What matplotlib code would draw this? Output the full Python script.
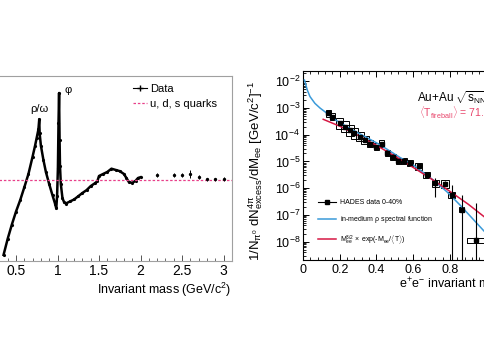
import matplotlib
matplotlib.use('Agg')
import matplotlib.pyplot as plt
from matplotlib.lines import Line2D
from matplotlib.patches import Rectangle
from matplotlib.ticker import MultipleLocator, LogLocator, NullFormatter, FormatStrFormatter

plt.rcParams['font.family'] = ['Liberation Sans', 'DejaVu Sans']
plt.rcParams['mathtext.fontset'] = 'custom'
plt.rcParams['mathtext.rm'] = 'Liberation Sans'
plt.rcParams['mathtext.it'] = 'Liberation Sans'
plt.rcParams['mathtext.bf'] = 'Liberation Sans'

# ---- left panel: R ratio vs invariant mass ----
mass_dense = [0.35, 0.40, 0.45, 0.50, 0.55, 0.60, 0.65, 0.70, 0.73, 0.75, 0.77, 0.78,
              0.785, 0.80, 0.83, 0.86, 0.90, 0.94, 0.97, 0.985, 0.995, 1.005, 1.012,
              1.019, 1.025, 1.03, 1.04, 1.06, 1.08, 1.10, 1.15, 1.20, 1.25, 1.30, 1.35,
              1.40, 1.45, 1.48, 1.50, 1.55, 1.60, 1.65, 1.70, 1.75, 1.80, 1.83, 1.86,
              1.90, 1.94, 1.97, 2.00]
ratio_dense = [0.15, 0.55, 0.90, 1.22, 1.50, 1.82, 2.15, 2.58, 2.85, 3.05, 3.25, 3.50,
               3.15, 2.85, 2.50, 2.20, 1.90, 1.62, 1.42, 1.30, 1.60, 2.30, 3.40,
               4.15, 3.00, 2.35, 1.90, 1.55, 1.45, 1.42, 1.47, 1.52, 1.60, 1.68, 1.75,
               1.85, 1.92, 1.97, 2.10, 2.15, 2.20, 2.28, 2.25, 2.22, 2.15, 2.05, 1.95,
               1.93, 1.98, 2.05, 2.07]
mass_sparse = [2.2, 2.4, 2.5, 2.6, 2.7, 2.8, 2.9, 3.0]
ratio_sparse = [2.12, 2.12, 2.12, 2.15, 2.08, 2.02, 2.02, 2.03]
ratio_sparse_err = [0.05, 0.05, 0.05, 0.09, 0.05, 0.04, 0.04, 0.05]
quark_ratio = 2.0

# ---- right panel: HADES excess yield ----
hades_m = [0.138, 0.16, 0.20, 0.229, 0.256, 0.28, 0.31, 0.338, 0.365, 0.398, 0.429,
           0.46, 0.49, 0.52, 0.55, 0.583, 0.629, 0.674, 0.72, 0.774, 0.81, 0.865, 0.943]
hades_y = [6.5e-4, 4.8e-4, 2.7e-4, 2.0e-4, 1.5e-4, 1.15e-4, 8.5e-5, 6.5e-5, 4.6e-5,
           3.6e-5, 4.6e-5, 2.0e-5, 1.45e-5, 1.07e-5, 1.07e-5, 8.7e-6, 6.5e-6, 3.2e-6,
           1.55e-6, 1.45e-6, 5.6e-7, 1.55e-7, 1.1e-8]
hades_lo = [6.4e-4, 4.7e-4, 2.6e-4, 1.9e-4, 1.4e-4, 1.1e-4, 8.2e-5, 6.3e-5, 4.4e-5,
            3.4e-5, 4.4e-5, 1.9e-5, 1.38e-5, 1.0e-5, 1.0e-5, 8.2e-6, 6.0e-6, 2.9e-6,
            4.7e-7, 1.2e-6, 1e-12, 1e-12, 1e-12]
hades_hi = [6.6e-4, 4.9e-4, 2.8e-4, 2.1e-4, 1.6e-4, 1.2e-4, 8.8e-5, 6.7e-5, 4.8e-5,
            3.8e-5, 4.8e-5, 2.1e-5, 1.52e-5, 1.14e-5, 1.14e-5, 9.2e-6, 7.0e-6, 3.6e-6,
            2.45e-6, 1.8e-6, 1.3e-6, 5.6e-7, 2.8e-7]
syst_dm = [0.012, 0.012, 0.02, 0.02, 0.02, 0.02, 0.02, 0.02, 0.014, 0.014, 0.014,
           0.014, 0.014, 0.014, 0.014, 0.014, 0.018, 0.018, 0.02, 0.022, 0.02, 0.014, 0.05]
syst_fac = [1.35, 1.35, 1.6, 1.6, 1.6, 1.6, 1.5, 1.4, 1.35, 1.35, 1.35,
            1.3, 1.3, 1.3, 1.3, 1.3, 1.3, 1.3, 1.35, 1.45, 1.3, 1.25, 1.25]

rho_m = [0.008, 0.015, 0.023, 0.038, 0.065, 0.093, 0.129, 0.166, 0.25, 0.347, 0.42,
         0.529, 0.60, 0.71, 0.783, 0.856, 0.99, 1.08]
rho_y = [1.12e-2, 7.6e-3, 4.8e-3, 2.7e-3, 1.5e-3, 1.0e-3, 6.5e-4, 4.0e-4, 1.8e-4,
         7.9e-5, 4.2e-5, 1.4e-5, 7.4e-6, 2.0e-6, 7.4e-7, 2.3e-7, 2.3e-8, 5e-9]
fit_m = [0.11, 0.2, 0.3, 0.4, 0.5, 0.6, 0.7, 0.8, 0.9, 1.0, 1.08]
fit_y = [3.8e-4, 2.1e-4, 9.5e-5, 4.0e-5, 1.6e-5, 6.0e-6, 2.2e-6, 7.6e-7, 2.5e-7,
         7.2e-8, 3.0e-8]

W, H = 485, 360
fig = plt.figure(figsize=(W / 100, H / 100), dpi=100)


def px_axes(x0, y0, x1, y1):
    return fig.add_axes([x0 / W, 1 - y1 / H, (x1 - x0) / W, (y1 - y0) / H])


# left panel
ax1 = px_axes(-8.9, 76, 231.8, 261)
ax1.plot(mass_dense, ratio_dense, color='k', lw=1.8, marker='.', ms=2.5)
ax1.errorbar(mass_sparse, ratio_sparse, yerr=ratio_sparse_err, fmt='o', ms=1.4,
             color='k', elinewidth=0.7, capsize=0)
ax1.axhline(quark_ratio, color='#e8408a', lw=0.9, ls=(0, (2, 1.5)))
ax1.set_xlim(0.2, 3.1)
ax1.set_ylim(0, 4.57)
ax1.xaxis.set_major_locator(MultipleLocator(0.5))
ax1.xaxis.set_minor_locator(MultipleLocator(0.1))
ax1.xaxis.set_major_formatter(FormatStrFormatter('%g'))
ax1.tick_params(axis='x', which='both', direction='in', labelsize=10, pad=2.5,
                colors='#555555', labelcolor='k')
ax1.tick_params(axis='x', which='major', length=4, width=0.7)
ax1.tick_params(axis='x', which='minor', length=2, width=0.6)
ax1.set_yticks([])
for s in ax1.spines.values():
    s.set_color('#a0a0a0')
    s.set_linewidth(0.8)
ax1.set_xlabel('Invariant mass (GeV/c$^2$)', fontsize=9, loc='right', labelpad=2)
ax1.text(0.78, 3.62, 'ρ/ω', fontsize=8, ha='center', va='bottom')
ax1.text(1.13, 4.1, 'φ', fontsize=8, ha='center', va='bottom')
h_data = Line2D([], [], color='k', lw=0.8, marker='+', ms=4)
h_quark = Line2D([], [], color='#e8408a', lw=0.9, ls=(0, (2, 1.5)))
ax1.legend([h_data, h_quark], ['Data', 'u, d, s quarks'], loc='upper left',
           bbox_to_anchor=(133 / W, 1 - 84 / H), bbox_transform=fig.transFigure,
           fontsize=8, frameon=False, handlelength=1.3, handletextpad=0.2,
           labelspacing=0.45, borderpad=0, borderaxespad=0)

# right panel
ax2 = px_axes(303, 71, 505, 260)
for m, y, dm, f in zip(hades_m, hades_y, syst_dm, syst_fac):
    ax2.add_patch(Rectangle((m - dm, y / f), 2 * dm, y * f - y / f, fill=False,
                            ec='k', lw=0.7, zorder=2))
yerr = [[y - lo for y, lo in zip(hades_y, hades_lo)],
        [hi - y for y, hi in zip(hades_y, hades_hi)]]
ax2.errorbar(hades_m, hades_y, yerr=yerr, fmt='s', ms=3, color='k',
             elinewidth=0.8, capsize=0, zorder=4)
ax2.plot(rho_m, rho_y, color='#3a9ad9', lw=1.1, zorder=3)
ax2.plot(fit_m, fit_y, color='#d61844', lw=1.1, zorder=3)
ax2.set_yscale('log')
ax2.set_xlim(0, 1.1)
ax2.set_ylim(2.04e-9, 2.45e-2)
ax2.xaxis.set_major_locator(MultipleLocator(0.2))
ax2.xaxis.set_minor_locator(MultipleLocator(0.04))
ax2.xaxis.set_major_formatter(FormatStrFormatter('%g'))
ax2.yaxis.set_major_locator(LogLocator(base=10, numticks=20))
ax2.yaxis.set_minor_locator(LogLocator(base=10, subs=range(2, 10), numticks=20))
ax2.yaxis.set_minor_formatter(NullFormatter())
ax2.tick_params(which='both', direction='in', top=True, right=True, labelsize=9, pad=2)
ax2.tick_params(axis='x', pad=3)
ax2.tick_params(which='major', length=4.5, width=0.7)
ax2.tick_params(which='minor', length=2.3, width=0.6)
for s in ax2.spines.values():
    s.set_linewidth(0.8)
ax2.set_ylabel(r'$\mathrm{1/N_{\pi^0}\ dN^{4\pi}_{excess}/dM_{ee}\ '
               r'[GeV/c^2]^{-1}}$', fontsize=9.5)
ax2.yaxis.set_label_coords(-0.19, 0.47)
fig.text(399 / W, 1 - 284 / H, r'e$^{+}$e$^{-}$ invariant mass [GeV/c$^2$]',
         fontsize=9, ha='left', va='center')
fig.text(417 / W, 1 - 98 / H, r'Au+Au $\sqrt{\mathrm{s_{NN}}}$ = 2.42 GeV',
         fontsize=8.5, ha='left', va='center')
fig.text(419 / W, 1 - 113 / H,
         r'$\langle\mathrm{T_{fireball}}\rangle$ = 71.8 $\pm$ 2.1 MeV',
         fontsize=7.5, color='#e8456b', ha='left', va='center')

h_hades = Line2D([], [], color='k', lw=0.8, marker='s', ms=3)
h_rho = Line2D([], [], color='#3a9ad9', lw=1.1)
h_fit = Line2D([], [], color='#d61844', lw=1.1)
ax2.legend([h_hades, h_rho, h_fit],
           ['HADES data 0-40%', r'in-medium $\rho$ spectral function',
            r'$\mathrm{M_{ee}^{3/2}}\times$ exp(-M$_{\mathrm{ee}}$/$\langle$T$\rangle$)'],
           loc='upper left', bbox_to_anchor=(318 / W, 1 - 199 / H),
           bbox_transform=fig.transFigure, fontsize=5, frameon=False,
           handlelength=2.6, handletextpad=0.5, labelspacing=1.15,
           borderpad=0, borderaxespad=0)

fig.savefig('out.png', dpi=100)
